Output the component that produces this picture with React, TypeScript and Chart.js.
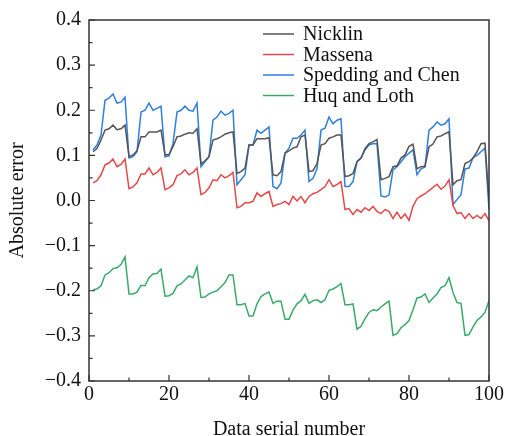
import React, { useEffect, useRef } from 'react';
import { Chart, registerables } from 'chart.js';

Chart.register(...registerables);

const seriesNames = ['Nicklin', 'Massena', 'Spedding and Chen', 'Huq and Loth'];
const seriesColors = ['#555555', '#e5484a', '#2f7fdc', '#3aaa6a'];

const nicklin = [
  0.108, 0.115, 0.134, 0.156, 0.159, 0.167, 0.157, 0.159, 0.167,
  0.097, 0.101, 0.110, 0.141, 0.141, 0.152, 0.152, 0.152, 0.156,
  0.101, 0.102, 0.119, 0.141, 0.143, 0.147, 0.150, 0.149, 0.159,
  0.081, 0.088, 0.097, 0.134, 0.137, 0.141, 0.147, 0.150, 0.152,
  0.060, 0.064, 0.072, 0.123, 0.123, 0.137, 0.137, 0.137, 0.139,
  0.057, 0.055, 0.064, 0.105, 0.110, 0.116, 0.119, 0.141, 0.145,
  0.064, 0.066, 0.082, 0.123, 0.126, 0.138, 0.141, 0.145, 0.145,
  0.053, 0.055, 0.060, 0.086, 0.094, 0.115, 0.126, 0.130, 0.135,
  0.046, 0.049, 0.053, 0.075, 0.077, 0.094, 0.101, 0.120, 0.125,
  0.070, 0.075, 0.076, 0.119, 0.125, 0.141, 0.143, 0.148, 0.152,
  0.035, 0.044, 0.046, 0.082, 0.086, 0.094, 0.108, 0.126, 0.127,
  0.000,
];

const massena = [
  0.039, 0.044, 0.057, 0.079, 0.083, 0.092, 0.075, 0.080, 0.092,
  0.026, 0.030, 0.039, 0.059, 0.059, 0.072, 0.057, 0.062, 0.072,
  0.024, 0.028, 0.035, 0.055, 0.059, 0.068, 0.057, 0.062, 0.072,
  0.013, 0.018, 0.028, 0.046, 0.044, 0.057, 0.050, 0.055, 0.062,
  -0.016, -0.013, -0.005, -0.005, -0.002, 0.017, 0.009, 0.015, 0.020,
  -0.013, -0.009, -0.007, -0.002, -0.009, 0.009, -0.001, 0.009, -0.005,
  0.009, 0.015, 0.018, 0.024, 0.031, 0.046, 0.031, 0.035, 0.042,
  -0.020, -0.018, -0.031, -0.020, -0.026, -0.016, -0.022, -0.013, -0.024,
  -0.029, -0.020, -0.024, -0.040, -0.026, -0.040, -0.030, -0.044, -0.013,
  0.004, 0.010, 0.015, 0.022, 0.029, 0.036, 0.025, 0.032, 0.046,
  -0.011, -0.029, -0.027, -0.040, -0.029, -0.040, -0.033, -0.040, -0.029,
  -0.045,
];

const speddingChen = [
  0.112, 0.123, 0.145, 0.222, 0.227, 0.236, 0.216, 0.218, 0.229,
  0.094, 0.097, 0.108, 0.196, 0.200, 0.216, 0.200, 0.204, 0.209,
  0.097, 0.099, 0.126, 0.196, 0.200, 0.209, 0.200, 0.198, 0.216,
  0.075, 0.086, 0.097, 0.178, 0.185, 0.198, 0.189, 0.193, 0.200,
  0.035, 0.046, 0.057, 0.123, 0.123, 0.156, 0.149, 0.156, 0.163,
  0.031, 0.026, 0.039, 0.105, 0.116, 0.138, 0.138, 0.145, 0.156,
  0.042, 0.049, 0.070, 0.156, 0.160, 0.185, 0.170, 0.178, 0.181,
  0.031, 0.031, 0.042, 0.086, 0.094, 0.112, 0.123, 0.126, 0.126,
  0.010, 0.008, 0.012, 0.068, 0.075, 0.086, 0.097, 0.105, 0.112,
  0.057, 0.070, 0.074, 0.156, 0.163, 0.174, 0.167, 0.170, 0.181,
  -0.009, 0.002, 0.013, 0.070, 0.072, 0.095, 0.100, 0.108, 0.116,
  -0.020,
];

const huqLoth = [
  -0.198, -0.196, -0.189, -0.165, -0.160, -0.151, -0.149, -0.142, -0.125,
  -0.207, -0.207, -0.203, -0.188, -0.189, -0.171, -0.163, -0.162, -0.152,
  -0.212, -0.211, -0.206, -0.189, -0.185, -0.176, -0.167, -0.171, -0.147,
  -0.215, -0.214, -0.207, -0.203, -0.200, -0.191, -0.182, -0.165, -0.165,
  -0.231, -0.231, -0.228, -0.256, -0.256, -0.229, -0.213, -0.207, -0.203,
  -0.228, -0.223, -0.223, -0.263, -0.263, -0.243, -0.229, -0.222, -0.208,
  -0.228, -0.222, -0.220, -0.226, -0.220, -0.199, -0.196, -0.191, -0.184,
  -0.231, -0.231, -0.229, -0.285, -0.279, -0.262, -0.248, -0.242, -0.244,
  -0.236, -0.229, -0.223, -0.299, -0.295, -0.282, -0.275, -0.266, -0.242,
  -0.216, -0.214, -0.207, -0.226, -0.216, -0.207, -0.193, -0.189, -0.171,
  -0.204, -0.226, -0.228, -0.299, -0.297, -0.280, -0.266, -0.258, -0.248,
  -0.222,
];

const seriesValues = [nicklin, massena, speddingChen, huqLoth];

const xTicks = [0, 20, 40, 60, 80, 100];
const xMinorTicks = [10, 30, 50, 70, 90];
const yTicks = [-0.4, -0.3, -0.2, -0.1, 0, 0.1, 0.2, 0.3, 0.4];
const yMinorTicks = [-0.35, -0.25, -0.15, -0.05, 0.05, 0.15, 0.25, 0.35];

const xTitle = 'Data serial number';
const yTitle = 'Absolute error';

const FONT = "'Liberation Serif', 'Times New Roman', serif";
const AXIS_COLOR = '#333333';

const framePlugin = {
  id: 'frameAndTicks',
  afterDraw(chart: any) {
    const { ctx, chartArea } = chart;
    const xs = chart.scales.x;
    const ys = chart.scales.y;
    ctx.save();
    ctx.strokeStyle = AXIS_COLOR;
    ctx.lineWidth = 1.5;
    ctx.strokeRect(chartArea.left, chartArea.top, chartArea.right - chartArea.left, chartArea.bottom - chartArea.top);
    ctx.lineWidth = 1.2;
    ctx.beginPath();
    xTicks.forEach((v) => {
      const p = xs.getPixelForValue(v);
      ctx.moveTo(p, chartArea.bottom);
      ctx.lineTo(p, chartArea.bottom - 6);
    });
    xMinorTicks.forEach((v) => {
      const p = xs.getPixelForValue(v);
      ctx.moveTo(p, chartArea.bottom);
      ctx.lineTo(p, chartArea.bottom - 3.5);
    });
    yTicks.forEach((v) => {
      const p = ys.getPixelForValue(v);
      ctx.moveTo(chartArea.left, p);
      ctx.lineTo(chartArea.left + 6, p);
    });
    yMinorTicks.forEach((v) => {
      const p = ys.getPixelForValue(v);
      ctx.moveTo(chartArea.left, p);
      ctx.lineTo(chartArea.left + 3.5, p);
    });
    ctx.stroke();

    // legend
    const lineX0 = chartArea.left + 174;
    const lineX1 = chartArea.left + 205;
    const textX = chartArea.left + 214;
    const rowY0 = chartArea.top + 14;
    const rowGap = 20.5;
    ctx.font = `20px ${FONT}`;
    ctx.textBaseline = 'middle';
    ctx.textAlign = 'left';
    seriesNames.forEach((name, k) => {
      const y = rowY0 + k * rowGap;
      ctx.strokeStyle = seriesColors[k];
      ctx.lineWidth = 1.5;
      ctx.beginPath();
      ctx.moveTo(lineX0, y);
      ctx.lineTo(lineX1, y);
      ctx.stroke();
      ctx.fillStyle = '#111111';
      ctx.fillText(name, textX, y + 1);
    });
    ctx.restore();
  },
};

function fmt(v: number) {
  const r = Math.round(v * 10) / 10;
  return r.toFixed(1).replace('-', '\u2212');
}

export default function App() {
  const ref = useRef<HTMLCanvasElement | null>(null);
  useEffect(() => {
    if (!ref.current) return;
    const datasets = seriesNames.map((name, k) => ({
      label: name,
      data: seriesValues[k].map((v, i) => ({ x: i + 1, y: v })),
      borderColor: seriesColors[k],
      backgroundColor: seriesColors[k],
      borderWidth: 1.5,
      pointRadius: 0,
      tension: 0,
      fill: false,
    }));
    const chart = new Chart(ref.current, {
      type: 'line',
      data: { datasets },
      plugins: [framePlugin],
      options: {
        animation: false,
        responsive: false,
        maintainAspectRatio: false,
        layout: { padding: { top: 17, right: 17, left: 0, bottom: 0 } },
        plugins: { legend: { display: false }, tooltip: { enabled: false } },
        scales: {
          x: {
            type: 'linear',
            min: 0,
            max: 100,
            afterBuildTicks: (s: any) => {
              s.ticks = xTicks.map((v) => ({ value: v }));
            },
            ticks: {
              font: { family: FONT, size: 20 },
              color: '#111111',
              padding: 2,
              maxRotation: 0,
              autoSkip: false,
              callback: (v: any) => String(v),
            },
            grid: { display: false, drawTicks: false },
            border: { display: false },
            title: {
              display: true,
              text: xTitle,
              font: { family: FONT, size: 20 },
              color: '#111111',
              padding: { top: 2, bottom: -6 },
            },
            afterFit: (s: any) => {
              s.height = 55;
            },
          },
          y: {
            type: 'linear',
            min: -0.4,
            max: 0.4,
            afterBuildTicks: (s: any) => {
              s.ticks = yTicks.map((v) => ({ value: v }));
            },
            ticks: {
              font: { family: FONT, size: 20 },
              color: '#111111',
              padding: 8,
              autoSkip: false,
              callback: (v: any) => fmt(Number(v)),
            },
            grid: { display: false, drawTicks: false },
            border: { display: false },
            title: {
              display: true,
              text: yTitle,
              font: { family: FONT, size: 20 },
              color: '#111111',
              padding: { top: 6, bottom: 4 },
            },
            afterFit: (s: any) => {
              s.width = 89;
            },
          },
        },
      },
    });
    return () => chart.destroy();
  }, []);
  return (
    <div style={{ position: 'absolute', left: 0, top: 0, width: 506, height: 436, background: '#ffffff' }}>
      <canvas ref={ref} width={506} height={436} style={{ width: 506, height: 436 }} />
    </div>
  );
}
